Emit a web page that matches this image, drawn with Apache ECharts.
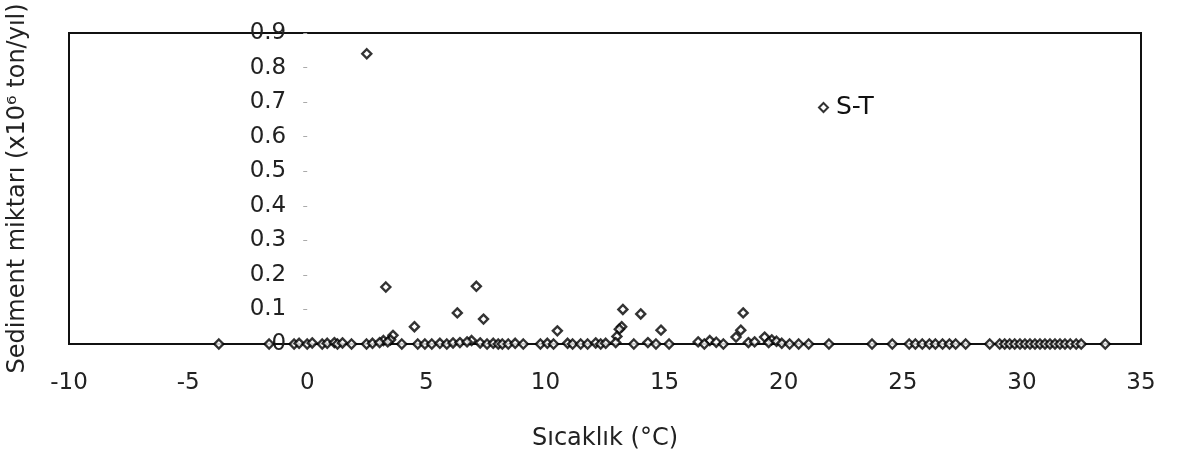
<!DOCTYPE html>
<html>
<head>
<meta charset="utf-8">
<script src="https://cdn.jsdelivr.net/npm/echarts@6/dist/echarts.min.js"></script>
<style>
html,body{margin:0;padding:0;background:#fff;}
#chart{width:1185px;height:453px;}
</style>
</head>
<body>
<div id="chart"></div>
<script>
// Temperature (°C) values of the points
const temps = [
  2.5, 3.3, 7.1, 6.3, 7.4, 4.5, 3.6, 10.5, 13.25, 14.0, 13.2, 13.1, 13.0, 14.85,
  18.3, 18.2, 18.0, 19.2, 6.9, 16.9, 19.5, 3.2, 3.5,
  -3.71, -1.60, -0.55, -0.34, 0.0, 0.21, 0.63, 0.84, 1.14, 1.27, 1.48, 1.86,
  2.49, 2.74, 3.04, 3.38, 3.97, 4.64, 4.94, 5.23, 5.57, 5.86, 6.12, 6.41,
  6.71, 7.26, 7.55, 7.81, 8.02, 8.19, 8.44, 8.73, 9.07, 9.79, 10.08, 10.34,
  10.93, 11.14, 11.48, 11.77, 12.11, 12.32, 12.53, 12.95, 13.71, 14.30, 14.64,
  15.19, 16.41, 16.67, 17.17, 17.47, 18.52, 18.78, 19.37, 19.70, 19.92, 20.25,
  20.63, 21.05, 21.90, 23.71, 24.56, 25.27, 25.53, 25.82, 26.12, 26.37, 26.67,
  26.96, 27.22, 27.64, 28.65, 29.07, 29.28, 29.49, 29.70, 29.92, 30.13, 30.34,
  30.55, 30.76, 30.97, 31.18, 31.39, 31.60, 31.81, 32.03, 32.28, 32.49, 33.50
];
// Sediment amount (x10^6 ton/yıl) for each temperature above
const sediment = [
  0.84, 0.165, 0.167, 0.09, 0.072, 0.05, 0.025, 0.038, 0.10, 0.087, 0.05, 0.043, 0.022, 0.04,
  0.09, 0.04, 0.02, 0.02, 0.01, 0.01, 0.012, 0.01, 0.012,
  0.0, 0.0, 0.0, 0.002, 0.0, 0.003, 0.0, 0.002, 0.004, 0.0, 0.003, 0.0,
  0.0, 0.002, 0.004, 0.006, 0.0, 0.0, 0.0, 0.0, 0.002, 0.0, 0.003, 0.004,
  0.006, 0.003, 0.0, 0.002, 0.0, 0.0, 0.0, 0.002, 0.0, 0.0, 0.002, 0.0,
  0.002, 0.0, 0.0, 0.0, 0.003, 0.0, 0.002, 0.004, 0.0, 0.004, 0.0,
  0.0, 0.006, 0.0, 0.005, 0.0, 0.004, 0.006, 0.004, 0.008, 0.002, 0.0,
  0.0, 0.0, 0.0, 0.0, 0.0, 0.0, 0.0, 0.0, 0.0, 0.0, 0.0,
  0.0, 0.0, 0.0, 0.0, 0.0, 0.0, 0.0, 0.0, 0.0, 0.0, 0.0,
  0.0, 0.0, 0.0, 0.0, 0.0, 0.0, 0.0, 0.0, 0.0, 0.0, 0.0
];
const seriesName = 'S-T';
const xTicks = [-10, -5, 0, 5, 10, 15, 20, 25, 30, 35];
const yTicks = [0, 0.1, 0.2, 0.3, 0.4, 0.5, 0.6, 0.7, 0.8, 0.9];
const xTitle = 'Sıcaklık (°C)';
const yTitle = 'Sediment miktarı (x10⁶ ton/yıl)';

const points = temps.map((t, i) => [t, sediment[i]]);
const chart = echarts.init(document.getElementById('chart'), null, {renderer: 'canvas'});
const font = '"DejaVu Sans", "Liberation Sans", Arial, sans-serif';
const gridLeft = 69, gridRight = 44;
const plotW = 1185 - gridLeft - gridRight;
// y axis sits at x = 0 of the x axis
const yAxisShift = plotW * (0 - xTicks[0]) / (xTicks[xTicks.length - 1] - xTicks[0]);

chart.setOption({
  animation: false,
  backgroundColor: '#fff',
  grid: {left: gridLeft, right: gridRight, top: 33, bottom: 109, show: true,
    borderColor: '#111', borderWidth: 2, backgroundColor: 'transparent',
    outerBoundsMode: 'none', containLabel: false},
  legend: {
    data: [seriesName], left: 813, top: 90, itemWidth: 9, itemHeight: 9,
    textStyle: {fontFamily: font, fontSize: 25, color: '#111', padding: [0, 0, 0, 3]}
  },
  xAxis: {
    type: 'value', min: xTicks[0], max: xTicks[xTicks.length - 1], interval: 5,
    name: xTitle, nameLocation: 'middle', nameGap: 83,
    nameTextStyle: {fontFamily: font, fontSize: 24, color: '#222'},
    axisLine: {show: true, onZero: false, lineStyle: {color: '#111', width: 2}},
    axisTick: {show: false},
    splitLine: {show: false},
    axisLabel: {fontFamily: font, fontSize: 23, color: '#222', margin: 28}
  },
  yAxis: {
    type: 'value', min: yTicks[0], max: yTicks[yTicks.length - 1], interval: 0.1,
    position: 'left', offset: -yAxisShift,
    name: yTitle, nameLocation: 'middle', nameGap: 277, nameRotate: 90,
    nameTextStyle: {fontFamily: font, fontSize: 24, color: '#222'},
    axisLine: {show: true, onZero: false, lineStyle: {color: 'rgba(0,0,0,0)'}},
    axisTick: {show: true, length: 4, lineStyle: {color: '#aaa'}},
    splitLine: {show: false},
    axisLabel: {fontFamily: font, fontSize: 23, color: '#222', margin: 21,
      formatter: v => String(Math.round(v * 10) / 10)}
  },
  series: [{
    name: seriesName, type: 'scatter', data: points,
    symbol: 'diamond', symbolSize: 9,
    itemStyle: {color: '#fff', borderColor: '#000', borderWidth: 2.4}
  }]
});
</script>
</body>
</html>
